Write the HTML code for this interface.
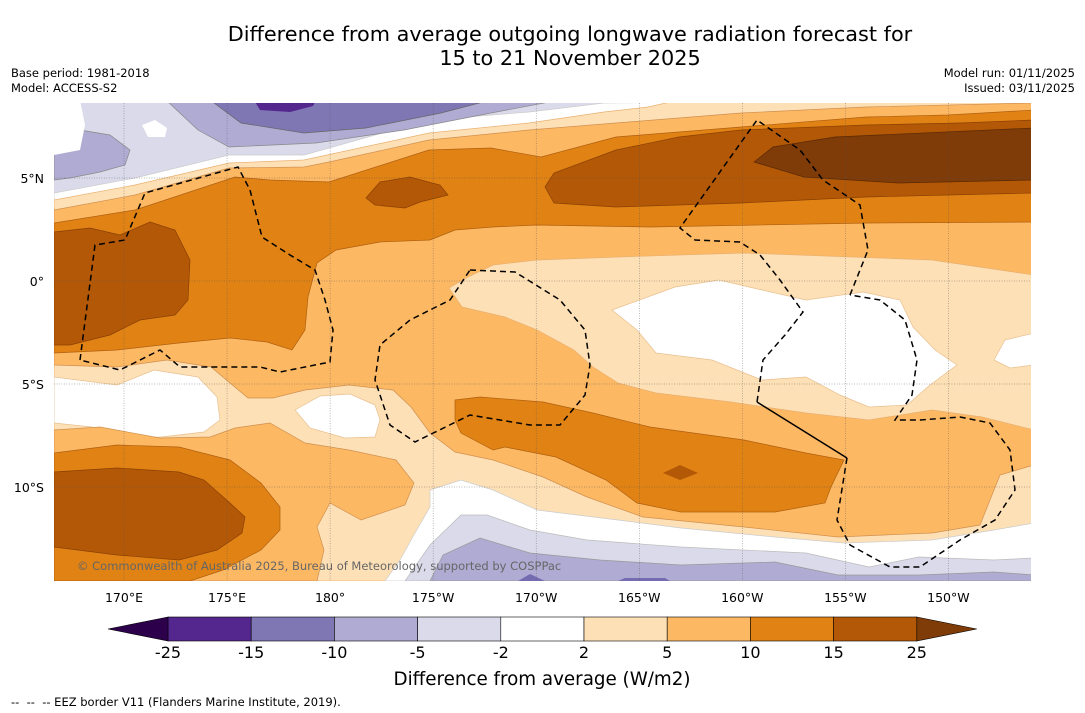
<!DOCTYPE html>
<html><head><meta charset="utf-8"><style>
body{margin:0;background:#fff;width:1085px;height:713px;overflow:hidden;font-family:"DejaVu Sans","Liberation Sans",sans-serif}
.t{position:absolute;color:#000;white-space:nowrap}
</style></head><body>
<div class="t" style="left:0;width:1140px;text-align:center;top:22px;font-size:20.8px;line-height:24px">Difference from average outgoing longwave radiation forecast for<br>15 to 21 November 2025</div>
<div class="t" style="left:11px;top:66px;font-size:11.5px;line-height:15px">Base period: 1981-2018<br>Model: ACCESS-S2</div>
<div class="t" style="right:10px;top:66px;font-size:11.5px;line-height:15px;text-align:right">Model run: 01/11/2025<br>Issued: 03/11/2025</div>
<div class="t" style="left:11px;top:695px;font-size:11.5px">-- &nbsp;-- &nbsp;-- EEZ border V11 (Flanders Marine Institute, 2019).</div>
<svg id="svg" width="1085" height="713" style="position:absolute;left:0;top:0">
<defs><clipPath id="mc"><rect x="54" y="103" width="977" height="478"/></clipPath></defs>
<g clip-path="url(#mc)" id="map" stroke-width="0.7">
<rect x="54" y="103" width="977" height="478" fill="#dadaeb"/>
<polygon fill="#fff" stroke="#ccc" points="54,193 135,178 229,155 304,155 429,120 529,112 604,103 1034,100 1034,581 54,581"/>
<polygon fill="#fee0b6" stroke="#e8b070" points="54,200 135,185 229,163 304,160 429,133 529,123 604,112 648,107 679,100 1034,100 1034,581 54,581"/>
<polygon fill="#fdb863" stroke="#d09050" points="54,210 135,195 229,168 304,167 329,162 429,140 529,130 616,123 741,113 866,107 1034,103 1034,465 1000,475 990,500 980,525 932,533 838,537 744,527 643,517 587,497 543,477 493,460 455,452 430,433 411,407 393,390 349,385 305,390 273,398 248,398 230,383 211,367 167,360 117,367 54,365"/>
<polygon fill="#e08214" stroke="#b06010" points="54,223 135,210 235,177 270,180 329,182 429,150 491,148 541,157 616,137 741,127 866,117 948,115 1034,110 1034,222 869,223 650,227 537,225 493,227 455,230 430,240 380,242 336,250 317,263 308,297 305,330 292,350 267,342 230,338 179,343 117,350 54,353"/>
<polygon fill="#b35806" stroke="#8a4004" points="54,232 90,228 120,235 150,222 175,230 190,260 188,300 175,315 140,320 110,335 70,345 54,345"/>
<polygon fill="#b35806" stroke="#8a4004" points="545,187 554,173 616,150 679,137 741,130 866,125 960,123 1034,120 1034,193 866,197 741,203 616,207 554,203"/>
<polygon fill="#7f3b08" stroke="#5a2a05" points="754,162 773,147 835,137 1034,128 1034,180 898,183 804,177"/>
<polygon fill="#b35806" stroke="#8a4004" points="366,198 380,182 410,177 440,185 448,195 420,202 405,208 375,205"/>
<polygon fill="#fee0b6" stroke="#e8b070" points="1034,275 932,260 744,253 618,257 537,260 493,265 468,277 449,288 462,307 505,317 537,330 574,350 593,367 618,383 656,393 731,402 806,413 869,420 932,410 982,417 1034,430"/>
<polygon fill="#fff" stroke="#e8c090" points="612,310 675,287 719,280 762,290 806,300 863,292 900,300 913,327 935,350 957,365 930,385 907,405 869,407 840,395 806,377 762,380 712,360 656,353 637,330"/>
<polygon fill="#fff" stroke="#e8c090" points="994,360 1005,340 1034,333 1034,365 1010,368"/>
<polygon fill="#fff" stroke="#e8c090" points="54,377 117,385 154,370 198,377 217,397 220,420 204,432 161,437 123,438 92,427 54,423"/>
<polygon fill="#fff" stroke="#e8c090" points="295,410 320,396 350,394 375,405 380,420 375,437 345,438 310,428"/>
<polygon fill="#fdb863" stroke="#d09050" points="54,430 100,427 160,438 210,437 235,428 270,423 305,443 349,450 396,460 414,483 405,505 361,520 330,503 317,527 324,550 317,581 54,581"/>
<polygon fill="#e08214" stroke="#b06010" points="54,453 117,445 179,447 230,460 261,483 280,507 280,530 261,550 223,570 190,581 54,581"/>
<polygon fill="#b35806" stroke="#8a4004" points="54,472 117,468 179,472 204,480 230,503 245,517 242,533 217,550 179,560 117,555 54,547"/>
<polygon fill="#e08214" stroke="#b06010" points="455,400 480,397 543,402 593,413 650,427 744,440 806,453 844,460 831,487 825,503 775,512 681,512 637,503 606,480 556,457 505,447 493,450 461,433 455,420"/>
<polygon fill="#b35806" points="663,473 680,465 698,473 680,480"/>
<polygon fill="#fff" stroke="#ccc" points="430,490 461,480 493,490 537,510 618,520 681,528 775,537 844,543 932,540 994,530 1034,523 1034,581 385,581 400,560 415,533 430,507"/>
<polygon fill="#dadaeb" stroke="#bbb" points="405,581 430,545 461,515 487,515 530,530 587,540 681,547 806,553 869,567 919,557 994,560 1034,558 1034,581"/>
<polygon fill="#b0abd3" stroke="#999" points="430,581 443,555 480,538 530,553 600,560 681,565 775,562 838,575 919,575 994,572 1034,575 1034,581"/>
<polygon fill="#756bb1" points="518,581 530,574 545,581"/>
<polygon fill="#756bb1" points="618,581 625,578 665,578 670,581"/>
<polygon fill="#b0abd3" stroke="#888" points="54,135 80,130 110,135 130,150 125,165 100,172 70,178 54,180"/>
<polygon fill="#b0abd3" stroke="#888" points="166,100 198,130 229,147 316,143 404,130 491,113 560,100"/>
<polygon fill="#7f76b4" stroke="#666" points="210,100 241,123 304,133 366,128 441,113 491,100"/>
<polygon fill="#54278f" points="254,100 260,110 290,112 313,106 316,100"/>
<polygon fill="#fff" points="54,100 80,100 85,125 80,150 54,155"/>
<polygon fill="#fff" points="142,125 155,120 167,128 165,137 148,137"/>
<g fill="none" stroke="#000" stroke-width="1.5" stroke-dasharray="6,4">
<polyline points="80,360 95,245 125,240 145,193 238,167 250,190 262,237 290,255 315,270 325,300 333,330 330,362 280,372 260,367 180,367 160,350 120,370 80,360"/>
<polyline points="470,270 515,272 560,300 585,330 590,365 585,395 560,425 530,425 470,415 415,442 390,425 375,380 380,345 410,320 450,300 470,270"/>
<polyline points="850,295 868,250 860,205 823,180 800,150 757,120 680,228 695,240 740,242 760,255 780,280 803,312 785,335 763,360 757,402"/>
<polyline points="847,458 837,520 850,545 890,567 920,567 960,540 995,520 1015,490 1010,450 990,423 960,417 920,420 895,420 912,395 917,360 905,320 880,300 850,295"/>
</g>
<polyline points="757,402 847,458" fill="none" stroke="#000" stroke-width="1.5"/>
<g id="grid" stroke="#555" stroke-width="0.5" stroke-dasharray="1,1.5" opacity="0.8"></g>
</g>
<text x="77" y="570" font-size="11.5" fill="#666" font-family="DejaVu Sans, sans-serif">© Commonwealth of Australia 2025, Bureau of Meteorology, supported by COSPPac</text>
<g id="axes" font-family="DejaVu Sans, sans-serif" font-size="12.5"></g>
<g id="cbar"></g>
<text x="542" y="685" font-size="18.3" text-anchor="middle" font-family="DejaVu Sans, sans-serif">Difference from average (W/m2)</text>
</svg>
<script>
const lonLabels=["170°E","175°E","180°","175°W","170°W","165°W","160°W","155°W","150°W"];
const lonValues=[170,175,180,185,190,195,200,205,210];
const latLabels=["5°N","0°","5°S","10°S"];
const latValues=[5,0,-5,-10];
const cbarTicks=["-25","-15","-10","-5","-2","2","5","10","15","25"];
const cbarColors=["#54278f","#7f76b4","#b0abd3","#dadaeb","#ffffff","#fee0b6","#fdb863","#e08214","#b35806"];
const cbarExtend=["#2d004b","#7f3b08"];
const NS="http://www.w3.org/2000/svg";
const xOf=lon=>124+(lon-170)*20.61;
const yOf=lat=>281-lat*20.6;
const grid=document.getElementById('grid'),axes=document.getElementById('axes'),cb=document.getElementById('cbar');
function mk(tag,attrs,parent){const e=document.createElementNS(NS,tag);for(const k in attrs)e.setAttribute(k,attrs[k]);parent.appendChild(e);return e;}
lonValues.forEach((v,i)=>{const x=xOf(v);
 const l=mk('line',{x1:x,x2:x,y1:103,y2:581},grid);
 
 
 const t=mk('text',{x:x,y:602,'text-anchor':'middle'},axes);t.textContent=lonLabels[i];
 
 
});
latValues.forEach((v,i)=>{const y=yOf(v);
 const l=mk('line',{x1:54,x2:1031,y1:y,y2:y},grid);
 
 
 const t=mk('text',{x:44,y:y+5,'text-anchor':'end'},axes);t.textContent=latLabels[i];
 
 
});
const cx0=168,cw=83.2,cy=617,ch=24;
cbarColors.forEach((c,i)=>{const r=mk('rect',{x:cx0+i*cw,y:cy,width:cw,height:ch,fill:c,stroke:'#000','stroke-width':0.6},cb);
 
 });
const xe=cx0+cbarColors.length*cw;
const p1=mk('polygon',{points:`${cx0},${cy} 108,${cy+ch/2} ${cx0},${cy+ch}`,fill:cbarExtend[0],stroke:'#000','stroke-width':0.6},cb);


const p2=mk('polygon',{points:`${xe},${cy} ${xe+60},${cy+ch/2} ${xe},${cy+ch}`,fill:cbarExtend[1],stroke:'#000','stroke-width':0.6},cb);


cbarTicks.forEach((s,i)=>{const t=mk('text',{x:cx0+i*cw,y:658,'text-anchor':'middle','font-size':16,'font-family':'DejaVu Sans, sans-serif'},cb);t.textContent=s;
 
 });
</script>
</body></html>
